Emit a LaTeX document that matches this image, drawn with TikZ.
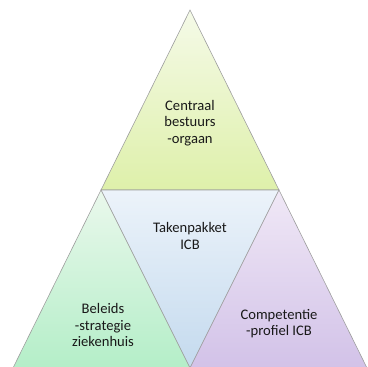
\documentclass[tikz,border=0pt]{standalone}
\usepackage{fontspec}
\setmainfont{Carlito}
\begin{document}
\begin{tikzpicture}[x=1pt,y=-1pt,
  tri/.style={draw=black!38, line width=0.6pt, line join=miter},
  lbl/.style={align=center, font=\fontsize{14.6}{16.2}\selectfont, text=black!90, inner sep=0pt}]
\useasboundingbox (0,0) rectangle (367,367);
% corner points of the four triangles
\coordinate (apex) at (190,10);
\coordinate (ml) at (101,190);
\coordinate (mr) at (279,190);
\coordinate (bl) at (13,368);
\coordinate (bm) at (190,368);
\coordinate (br) at (367,368);
% top triangle
\shade[tri, top color={rgb,255:red,245;green,250;blue,232}, bottom color={rgb,255:red,222;green,240;blue,170}]
  (apex) -- (mr) -- (ml) -- cycle;
% inverted middle triangle
\shade[tri, top color={rgb,255:red,236;green,243;blue,250}, bottom color={rgb,255:red,196;green,218;blue,238}]
  (ml) -- (mr) -- (bm) -- cycle;
% lower left triangle
\shade[tri, top color={rgb,255:red,234;green,248;blue,236}, bottom color={rgb,255:red,180;green,238;blue,200}]
  (ml) -- (bm) -- (bl) -- cycle;
% lower right triangle
\shade[tri, top color={rgb,255:red,240;green,232;blue,246}, bottom color={rgb,255:red,210;green,194;blue,232}]
  (mr) -- (br) -- (bm) -- cycle;
% labels
\node[lbl] (top) at (190,123) {Centraal\\bestuurs\\-orgaan};
\node[lbl] (mid) at (190,236) {Takenpakket\\ICB};
\node[lbl] (left) at (103,325) {Beleids\\-strategie\\ziekenhuis};
\node[lbl] (right) at (279,324) {Competentie\\-profiel ICB};
\end{tikzpicture}
\end{document}
